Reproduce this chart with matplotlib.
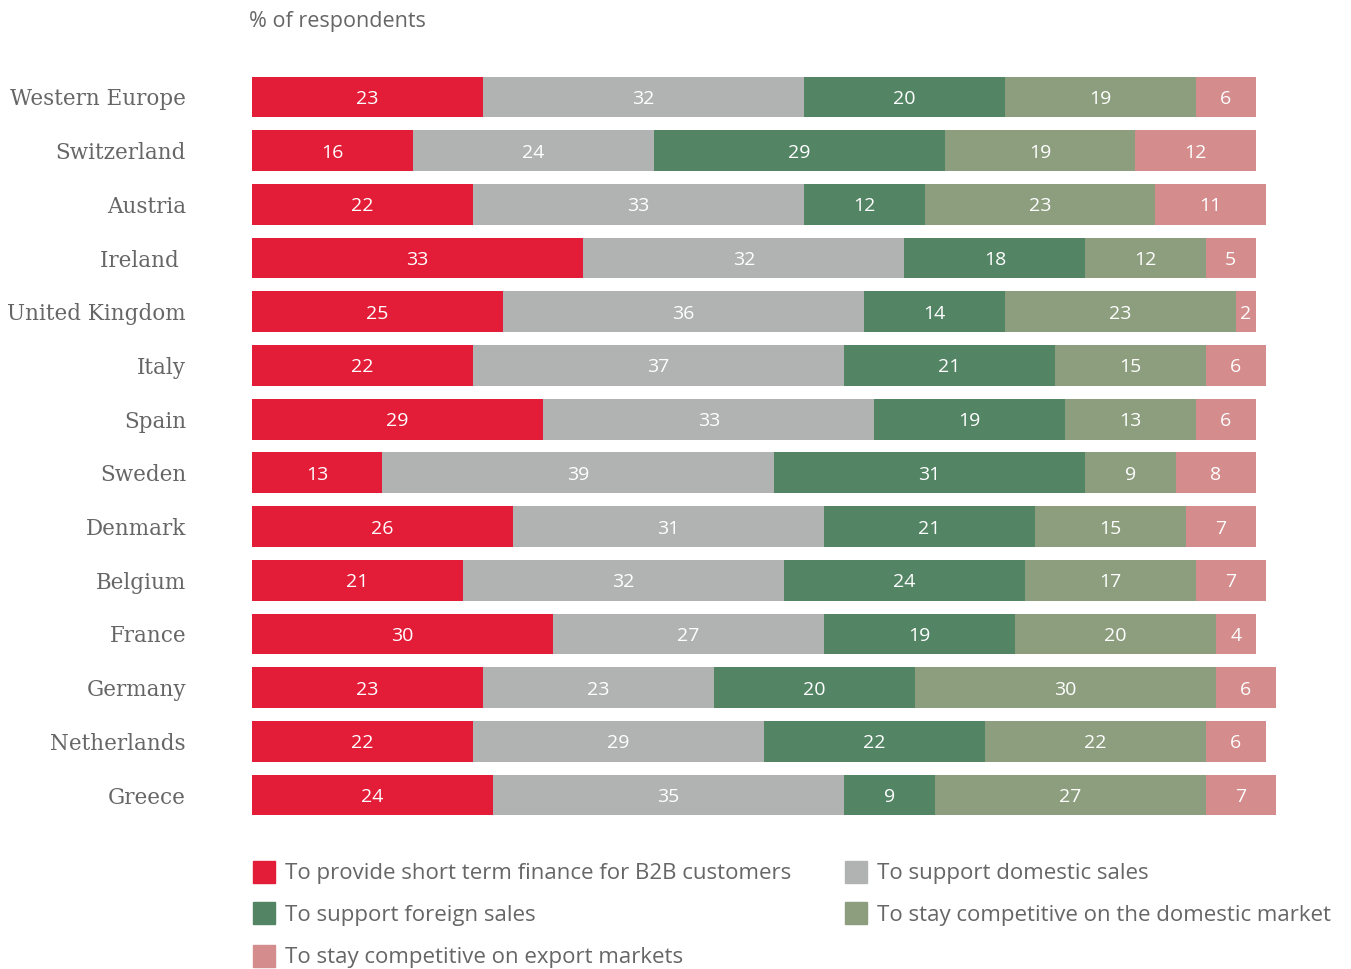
import matplotlib
matplotlib.use("Agg")
import matplotlib.pyplot as plt
from matplotlib.patches import Rectangle
import numpy as np

countries = ["Western Europe", "Switzerland", "Austria", "Ireland ", "United Kingdom",
             "Italy", "Spain", "Sweden", "Denmark", "Belgium", "France", "Germany",
             "Netherlands", "Greece"]

series_names = ["To provide short term finance for B2B customers",
                "To support domestic sales",
                "To support foreign sales",
                "To stay competitive on the domestic market",
                "To stay competitive on export markets"]

short_term_finance = [23, 16, 22, 33, 25, 22, 29, 13, 26, 21, 30, 23, 22, 24]
domestic_sales     = [32, 24, 33, 32, 36, 37, 33, 39, 31, 32, 27, 23, 29, 35]
foreign_sales      = [20, 29, 12, 18, 14, 21, 19, 31, 21, 24, 19, 20, 22, 9]
competitive_domestic = [19, 19, 23, 12, 23, 15, 13, 9, 15, 17, 20, 30, 22, 27]
competitive_export = [6, 12, 11, 5, 2, 6, 6, 8, 7, 7, 4, 6, 6, 7]

colors = ["#E31D38", "#B1B3B3", "#538565", "#8C9E7E", "#D48C8C"]

series = [short_term_finance, domestic_sales, foreign_sales,
          competitive_domestic, competitive_export]

W, H = 1351, 969
fig = plt.figure(figsize=(W / 100, H / 100), dpi=100)

# axes placed in pixel terms
ax_left, ax_right = 252, 1306
ax_top, ax_bottom = 70.15, 821.85
ax = fig.add_axes([ax_left / W, 1 - ax_bottom / H,
                   (ax_right - ax_left) / W, (ax_bottom - ax_top) / H])

sans = ["Open Sans", "DejaVu Sans"]
serif = ["DejaVu Serif"]
text_grey = "#666666"

y = np.arange(len(countries))
left = np.zeros(len(countries))
for vals, col in zip(series, colors):
    vals = np.array(vals, dtype=float)
    ax.barh(y, vals, left=left, height=0.76, color=col, edgecolor="none")
    for yi, (l, v) in enumerate(zip(left, vals)):
        ax.text(l + v / 2, yi, f"{int(v)}", ha="center", va="center_baseline",
                color="white", fontsize=14, family=sans)
    left += vals

ax.set_xlim(0, 105)
ax.set_ylim(len(countries) - 0.5, -0.5)
ax.set_yticks(y)
ax.set_yticklabels(countries, family=serif, fontsize=15.5, color=text_grey)
ax.tick_params(axis="y", length=0, pad=47.5)
ax.set_xticks([])
for s in ax.spines.values():
    s.set_visible(False)

fig.text(249 / W, 1 - 21 / H, "% of respondents", ha="left", va="center",
         fontsize=15.5, color=text_grey, family=sans)

# legend drawn in figure pixels
legend_items = [(0, 0), (2, 1), (4, 2), (1, 3), (3, 4)]
col_x = [253, 845]
row_y = [872, 913, 956]
for si, pos in legend_items:
    col = 0 if pos < 3 else 1
    row = pos if pos < 3 else pos - 3
    x0 = col_x[col]
    yc = row_y[row]
    fig.patches.append(Rectangle((x0 / W, 1 - (yc + 11) / H), 22 / W, 22 / H,
                                 transform=fig.transFigure, color=colors[si],
                                 figure=fig))
    fig.text((x0 + 32) / W, 1 - (yc + 2) / H, series_names[si], ha="left",
             va="center", fontsize=16, color=text_grey, family=sans)

fig.savefig("out.png", dpi=100, facecolor="white")
